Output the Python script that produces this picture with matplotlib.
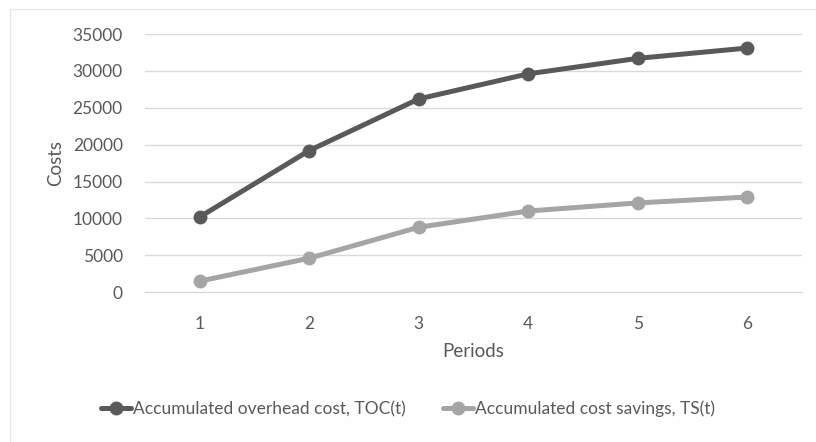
import matplotlib.pyplot as plt
from matplotlib.patches import Rectangle

periods = [1, 2, 3, 4, 5, 6]
toc = [10200, 19200, 26200, 29600, 31700, 33100]
ts = [1500, 4600, 8800, 11000, 12100, 12900]
yticks = [0, 5000, 10000, 15000, 20000, 25000, 30000, 35000]

txt = '#595959'
plt.rcParams['font.family'] = ['Lato', 'DejaVu Sans']

fig = plt.figure(figsize=(8.16, 4.42), dpi=100)
fig.patches.append(Rectangle((0.012, -0.01), 1.0, 0.99, transform=fig.transFigure,
                             fill=False, edgecolor='#e6e6e6', linewidth=1))
ax = fig.add_axes([0.1777, 0.339, 0.805, 0.584])

ax.plot(periods, toc, color='#595959', linewidth=3.6, marker='o', markersize=9,
        label='Accumulated overhead cost, TOC(t)', solid_capstyle='round')
ax.plot(periods, ts, color='#a5a5a5', linewidth=3.6, marker='o', markersize=9,
        label='Accumulated cost savings, TS(t)', solid_capstyle='round')

ax.set_xlim(0.5, 6.5)
ax.set_ylim(0, 35000)
ax.set_xticks(periods)
ax.set_yticks(yticks)
ax.grid(axis='y', color='#d9d9d9', linewidth=1)
ax.set_axisbelow(True)
for s in ['top', 'right', 'left']:
    ax.spines[s].set_visible(False)
ax.spines['bottom'].set_color('#d9d9d9')
ax.tick_params(length=0, labelsize=12.5, colors=txt)
ax.tick_params(axis='x', pad=17)
ax.tick_params(axis='y', pad=16)
ax.set_xlabel('Periods', fontsize=13.5, color=txt, labelpad=8)
ax.set_ylabel('Costs', fontsize=13.5, color=txt, labelpad=6)

fig.legend(loc='center', bbox_to_anchor=(0.5, 0.075), ncol=2, frameon=False,
           fontsize=12.5, labelcolor=txt, handlelength=1.7, handletextpad=0.1,
           columnspacing=2.2)

fig.savefig('out.png', dpi=100)
